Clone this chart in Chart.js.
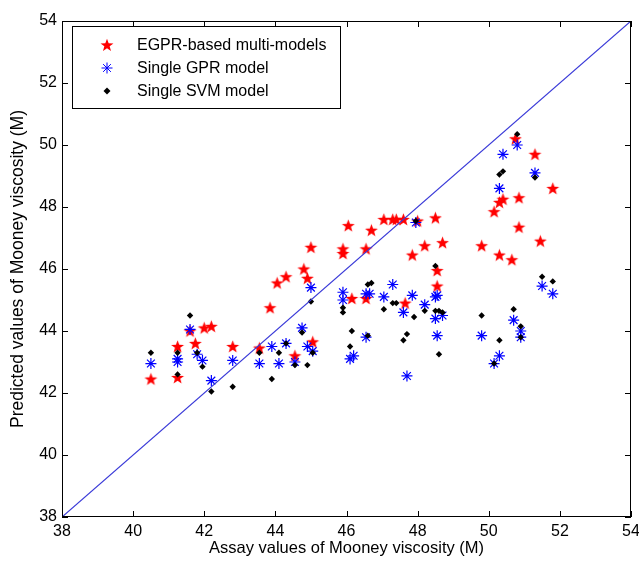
<!DOCTYPE html>
<html>
<head>
<meta charset="utf-8">
<script src="https://cdn.jsdelivr.net/npm/chart.js@4/dist/chart.umd.min.js"></script>
<style>html,body{margin:0;padding:0;background:#fff}</style>
</head>
<body>
<canvas id="c" width="639" height="561"></canvas>
<script>
// EGPR-based multi-models (red stars)
const egprX = [40.5, 41.25, 41.25, 41.6, 41.75, 42.0, 42.2, 42.8, 43.55, 43.85, 44.05, 44.3, 44.55, 44.8, 44.9, 45.0, 45.05, 45.9, 45.9, 46.05, 46.15, 46.55, 46.55, 46.7, 47.05, 47.3, 47.4, 47.6, 47.65, 47.85, 48.0, 48.2, 48.5, 48.55, 48.55, 48.7, 49.8, 50.15, 50.3, 50.4, 50.3, 50.65, 50.75, 50.85, 50.85, 51.3, 51.45, 51.8];
const egprY = [42.45, 43.5, 42.5, 44.0, 43.6, 44.1, 44.15, 43.5, 43.45, 44.75, 45.55, 45.75, 43.2, 46.0, 45.7, 46.7, 43.65, 46.65, 46.5, 47.4, 45.05, 46.65, 45.05, 47.25, 47.6, 47.6, 47.6, 47.6, 44.9, 46.45, 47.55, 46.75, 47.65, 45.95, 45.45, 46.85, 46.75, 47.85, 48.15, 48.25, 46.45, 46.3, 50.2, 48.3, 47.35, 49.7, 46.9, 48.6];

// Single GPR model (blue asterisks)
const gprX = [40.5, 41.25, 41.25, 41.6, 41.8, 41.95, 42.2, 42.8, 43.55, 43.9, 44.1, 44.3, 44.55, 44.75, 44.9, 45.05, 45.0, 45.9, 45.9, 46.1, 46.2, 46.55, 46.65, 46.55, 47.05, 47.3, 47.6, 47.7, 47.85, 47.95, 48.2, 48.5, 48.55, 48.5, 48.7, 48.55, 49.8, 50.15, 50.3, 50.3, 50.4, 50.7, 50.8, 50.9, 50.9, 51.3, 51.5, 51.8];
const gprY = [42.95, 43.0, 43.1, 44.05, 43.25, 43.05, 42.4, 43.05, 42.95, 43.5, 42.95, 43.6, 43.0, 44.1, 43.5, 43.35, 45.4, 45.25, 45.0, 43.1, 43.2, 45.2, 45.2, 43.8, 45.1, 45.5, 44.6, 42.55, 45.15, 47.5, 44.85, 45.1, 45.15, 44.4, 44.5, 43.85, 43.85, 42.95, 43.2, 48.6, 49.7, 44.35, 50.0, 44.0, 43.8, 49.1, 45.45, 45.2];

// Single SVM model (black dots)
const svmX = [40.5, 41.25, 41.25, 41.6, 41.8, 41.95, 42.2, 42.8, 43.55, 43.9, 44.1, 44.3, 44.55, 44.75, 44.9, 45.05, 45.0, 45.9, 45.9, 46.1, 46.15, 46.6, 46.7, 46.6, 47.05, 47.3, 47.4, 47.6, 47.7, 47.9, 47.95, 48.2, 48.5, 48.5, 48.6, 48.7, 48.6, 49.8, 50.15, 50.3, 50.3, 50.4, 50.7, 50.8, 50.9, 50.9, 51.3, 51.5, 51.8];
const svmY = [43.3, 43.3, 42.6, 44.5, 43.3, 42.85, 42.05, 42.2, 43.3, 42.45, 43.3, 43.6, 42.9, 43.95, 42.9, 43.3, 44.95, 44.75, 44.6, 43.5, 44.0, 45.5, 45.55, 43.85, 44.7, 44.9, 44.9, 43.7, 43.9, 44.45, 47.55, 44.65, 46.1, 44.65, 44.65, 44.6, 43.25, 44.5, 42.95, 43.7, 49.05, 49.15, 44.7, 50.35, 44.15, 43.8, 48.95, 45.75, 45.6];

// y = x reference line
const lineX = [38, 54];
const lineY = [38, 54];

const tickVals = [38, 40, 42, 44, 46, 48, 50, 52, 54];
const seriesNames = ["EGPR-based multi-models", "Single GPR model", "Single SVM model"];

const toPts = (xs, ys) => xs.map((x, i) => ({ x, y: ys[i] }));
const FONT = "'Liberation Sans', Arial, sans-serif";

// filled five-pointed star, matlab style
const drawStar = (g, cx, cy, ro, ri) => {
    g.beginPath();
    for (let i = 0; i < 10; i++) {
        const r = i % 2 ? ri : ro;
        const a = -Math.PI / 2 + i * Math.PI / 5;
        g.lineTo(cx + r * Math.cos(a), cy + r * Math.sin(a));
    }
    g.closePath();
    g.fill();
};
const starImg = document.createElement("canvas");
starImg.width = 15;
starImg.height = 15;
{
    const g = starImg.getContext("2d");
    g.fillStyle = "#ff0000";
    drawStar(g, 7.5, 8, 6.8, 2.8);
}

const frameAndLegend = {
    id: "frameAndLegend",
    afterDraw(chart) {
        const { ctx, chartArea: a, scales } = chart;
        ctx.save();
        ctx.strokeStyle = "#000";
        ctx.lineWidth = 1;
        ctx.strokeRect(a.left + 0.5, a.top + 0.5, a.right - a.left - 1, a.bottom - a.top - 1);

        // inward ticks on all four sides
        ctx.beginPath();
        tickVals.forEach((v) => {
            const px = Math.round(scales.x.getPixelForValue(v)) + 0.5;
            ctx.moveTo(px, a.bottom); ctx.lineTo(px, a.bottom - 6);
            ctx.moveTo(px, a.top); ctx.lineTo(px, a.top + 6);
            const py = Math.round(scales.y.getPixelForValue(v)) + 0.5;
            ctx.moveTo(a.left, py); ctx.lineTo(a.left + 6, py);
            ctx.moveTo(a.right, py); ctx.lineTo(a.right - 6, py);
        });
        ctx.stroke();

        // legend box
        const lx = 72, ly = 26, lw = 268, lh = 82;
        ctx.fillStyle = "#fff";
        ctx.fillRect(lx, ly, lw, lh);
        ctx.strokeRect(lx + 0.5, ly + 0.5, lw, lh);

        const rows = [45, 68, 91];
        const mx = 107;
        // star
        ctx.fillStyle = "#ff0000";
        drawStar(ctx, mx, rows[0] + 0.5, 6.8, 2.8);
        // asterisk
        ctx.strokeStyle = "#0000ff";
        ctx.beginPath();
        const r = 5.5, d = r * Math.SQRT1_2;
        ctx.moveTo(mx - r, rows[1]); ctx.lineTo(mx + r, rows[1]);
        ctx.moveTo(mx, rows[1] - r); ctx.lineTo(mx, rows[1] + r);
        ctx.moveTo(mx - d, rows[1] - d); ctx.lineTo(mx + d, rows[1] + d);
        ctx.moveTo(mx - d, rows[1] + d); ctx.lineTo(mx + d, rows[1] - d);
        ctx.stroke();
        // dot
        ctx.fillStyle = "#000";
        ctx.beginPath();
        ctx.moveTo(mx, rows[2] - 3.5); ctx.lineTo(mx + 3.5, rows[2]);
        ctx.lineTo(mx, rows[2] + 3.5); ctx.lineTo(mx - 3.5, rows[2]);
        ctx.closePath();
        ctx.fill();

        ctx.fillStyle = "#000";
        ctx.font = "16px " + FONT;
        ctx.textBaseline = "middle";
        seriesNames.forEach((s, i) => ctx.fillText(s, 137, rows[i] + 1));
        ctx.restore();
    }
};

const axisBase = {
    type: "linear",
    min: 38,
    max: 54,
    grid: { display: false, drawTicks: false },
    border: { display: false },
    ticks: { stepSize: 2, color: "#000", font: { size: 16, family: FONT }, padding: 5, maxRotation: 0 },
};

new Chart(document.getElementById("c"), {
    type: "scatter",
    data: {
        datasets: [
            {
                type: "line",
                data: toPts(lineX, lineY),
                borderColor: "#3a3ad8",
                borderWidth: 1.2,
                pointRadius: 0,
                order: 0,
            },
            {
                label: seriesNames[2],
                data: toPts(svmX, svmY),
                pointStyle: "rectRot",
                pointRadius: 3.2,
                backgroundColor: "#000",
                borderColor: "#000",
                borderWidth: 0,
                order: 1,
            },
            {
                label: seriesNames[1],
                data: toPts(gprX, gprY),
                pointStyle: "star",
                pointRadius: 5.5,
                borderColor: "#0000ff",
                borderWidth: 1.2,
                order: 2,
            },
            {
                label: seriesNames[0],
                data: toPts(egprX, egprY),
                pointStyle: starImg,
                pointRadius: 7,
                order: 3,
            },
        ],
    },
    options: {
        responsive: false,
        animation: false,
        devicePixelRatio: 1,
        layout: { padding: { top: 21, right: 7, left: 0, bottom: 0 } },
        plugins: { legend: { display: false }, tooltip: { enabled: false } },
        scales: {
            x: {
                ...axisBase,
                title: { display: true, text: "Assay values of Mooney viscosity (M)", color: "#000", font: { size: 16.5, family: FONT }, padding: { top: 0, bottom: 3 } },
                afterFit: (s) => { s.height = 44; s.paddingRight = 0; s.paddingLeft = 0; },
            },
            y: {
                ...axisBase,
                title: { display: true, text: "Predicted values of Mooney viscosity (M)", color: "#000", font: { size: 17.5, family: FONT }, padding: { top: 8, bottom: 0 } },
                afterFit: (s) => { s.width = 62; },
            },
        },
    },
    plugins: [frameAndLegend],
});
</script>
</body>
</html>
